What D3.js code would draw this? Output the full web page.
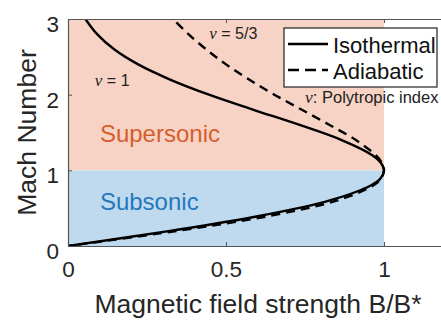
<!DOCTYPE html>
<html>
<head>
<meta charset="utf-8">
<script src="https://cdn.jsdelivr.net/npm/d3@7"></script>
<style>
  html, body { margin: 0; padding: 0; background: #fff; }
  svg { display: block; font-family: "Liberation Sans", Arial, sans-serif; }
</style>
</head>
<body>
<svg id="chart" width="441" height="320"></svg>
<script>
// Mach number (y) against normalised field strength B/B* (x)
const machValues = [3.0, 2.8, 2.6, 2.4, 2.2, 2.0, 1.8, 1.6, 1.4, 1.2, 1.1, 1.0, 0.9, 0.8, 0.6, 0.4, 0.2, 0.0];
const isothermalB = [0.055, 0.092, 0.146, 0.222, 0.323, 0.446, 0.587, 0.733, 0.866, 0.963, 0.990, 1.0, 0.990, 0.958, 0.826, 0.609, 0.323, 0.0];
const adiabaticMach = [3.1, 3.0, 2.8, 2.6, 2.4, 2.2, 2.0, 1.8, 1.6, 1.4, 1.2, 1.1, 1.0, 0.9, 0.8, 0.6, 0.4, 0.2, 0.0];
const adiabaticB = [0.312, 0.333, 0.381, 0.437, 0.500, 0.573, 0.653, 0.740, 0.828, 0.911, 0.974, 0.993, 1.0, 0.992, 0.966, 0.850, 0.641, 0.346, 0.0];

const flowRegions = ["Supersonic", "Subsonic"];
const regionMachLow = [1, 0];
const regionMachHigh = [3, 1];
const regionFill = ["#f6d3c5", "#bfdaee"];
const regionText = ["#d65d2c", "#1f78bd"];

const xTicks = [0, 0.5, 1];
const yTicks = [0, 1, 2, 3];
const legendLabels = ["Isothermal", "Adiabatic"];

const svg = d3.select("#chart");
const plotLeft = 68, plotTop = 19, plotBottom = 246, unitX = 316;

const x = d3.scaleLinear().domain([0, 1.2]).range([plotLeft, plotLeft + 1.2 * unitX]);
const y = d3.scaleLinear().domain([0, 3]).range([plotBottom, plotTop]);

svg.append("defs").append("clipPath").attr("id", "plotclip")
  .append("rect").attr("x", x(0)).attr("y", y(3)).attr("width", x(1.2) - x(0)).attr("height", y(0) - y(3));

// Shaded flow regimes
const plot = svg.append("g").attr("clip-path", "url(#plotclip)");
plot.selectAll("rect.region").data(flowRegions).join("rect")
  .attr("class", "region")
  .attr("x", x(0))
  .attr("width", x(1) - x(0))
  .attr("y", (d, i) => y(regionMachHigh[i]))
  .attr("height", (d, i) => y(regionMachLow[i]) - y(regionMachHigh[i]))
  .attr("fill", (d, i) => regionFill[i]);

// Region labels
const regionLabelMach = [1.38, 0.47];
svg.selectAll("text.region").data(flowRegions).join("text")
  .attr("class", "region")
  .attr("x", x(0.101))
  .attr("y", (d, i) => y(regionLabelMach[i]))
  .attr("font-size", 24)
  .attr("fill", (d, i) => regionText[i])
  .text(d => d);

// Curves
const line = d3.line().x(d => x(d[0])).y(d => y(d[1])).curve(d3.curveCatmullRom.alpha(0.5));
const isoPts = machValues.map((m, i) => [isothermalB[i], m]);
const adiPts = adiabaticMach.map((m, i) => [adiabaticB[i], m]);

plot.append("path").attr("d", line(adiPts))
  .attr("fill", "none").attr("stroke", "#000").attr("stroke-width", 2.4)
  .attr("stroke-dasharray", "9,6");
plot.append("path").attr("d", line(isoPts))
  .attr("fill", "none").attr("stroke", "#000").attr("stroke-width", 2.4);

// Axes with inward ticks
const axisColor = "#555";
const textColor = "#262626";
const gx = svg.append("g").attr("transform", `translate(0,${plotBottom})`)
  .call(d3.axisBottom(x).tickValues(xTicks).tickSize(-4).tickSizeOuter(0).tickPadding(16).tickFormat(d3.format("~g")));
const gxTop = svg.append("g").attr("transform", `translate(0,${plotTop})`)
  .call(d3.axisTop(x).tickValues(xTicks).tickSize(-4).tickSizeOuter(0).tickFormat(""));
const gy = svg.append("g").attr("transform", `translate(${plotLeft},0)`)
  .call(d3.axisLeft(y).tickValues(yTicks).tickSize(-4).tickSizeOuter(0).tickPadding(9).tickFormat(d3.format("~g")));

[gx, gxTop, gy].forEach(g => {
  g.select(".domain").attr("stroke", axisColor).attr("stroke-width", 1.2);
  g.selectAll(".tick line").attr("stroke", axisColor);
  g.selectAll(".tick text").attr("fill", textColor).attr("font-size", 22.5)
    .attr("font-family", "Liberation Sans, Arial, sans-serif");
});
gx.selectAll(".tick text").attr("dy", "0.68em");
gy.selectAll(".tick text").attr("dy", "0.55em");

// Axis titles
svg.append("text")
  .attr("x", 258).attr("y", 313)
  .attr("text-anchor", "middle").attr("font-size", 26.5).attr("fill", textColor)
  .text("Magnetic field strength B/B*");
svg.append("text")
  .attr("transform", `translate(36,${(plotTop + plotBottom) / 2}) rotate(-90)`)
  .attr("text-anchor", "middle").attr("font-size", 26.5).attr("fill", textColor)
  .text("Mach Number");

// Curve annotations
const nuFont = "Liberation Serif, Times New Roman, serif";
function nuLabel(px, py, rest, size) {
  const t = svg.append("text").attr("x", px).attr("y", py).attr("font-size", size).attr("fill", "#222");
  t.append("tspan").attr("font-family", nuFont).attr("font-style", "italic").attr("font-size", size + 1).text("ν");
  t.append("tspan").text(rest);
  return t;
}
nuLabel(x(0.085), y(2.12), " = 1", 16);
nuLabel(x(0.447), y(2.73), " = 5/3", 16);

// Legend
const lg = svg.append("g");
lg.append("rect").attr("x", 284).attr("y", 28).attr("width", 153).attr("height", 59)
  .attr("fill", "#fff").attr("stroke", "#222").attr("stroke-width", 1.2);
const legendY = [44, 70];
lg.selectAll("line").data(legendLabels).join("line")
  .attr("x1", 288).attr("x2", 328)
  .attr("y1", (d, i) => legendY[i]).attr("y2", (d, i) => legendY[i])
  .attr("stroke", "#000").attr("stroke-width", 2.4)
  .attr("stroke-dasharray", (d, i) => i === 1 ? "11,6" : null);
lg.selectAll("text").data(legendLabels).join("text")
  .attr("x", 333).attr("y", (d, i) => legendY[i] + 9)
  .attr("font-size", 22).attr("fill", "#111")
  .text(d => d);

nuLabel(305, 103, ": Polytropic index", 16.5);
</script>
</body>
</html>
